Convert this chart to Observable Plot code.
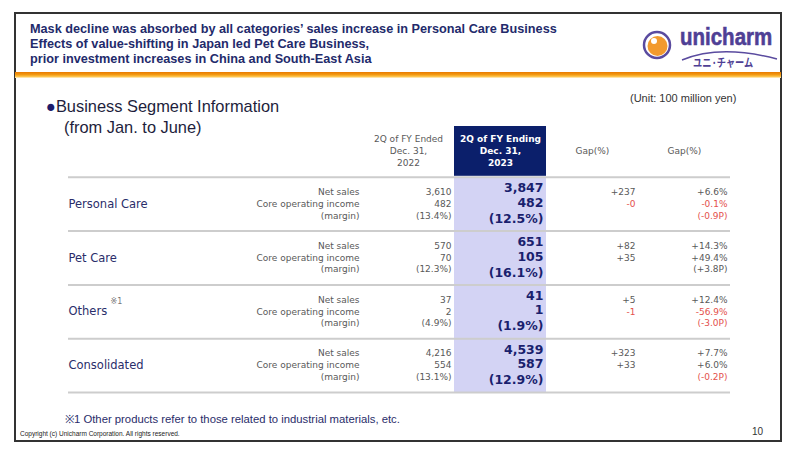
<!DOCTYPE html>
<html>
<head>
<meta charset="utf-8">
<script src="https://cdn.jsdelivr.net/npm/d3@7"></script>
<script src="https://cdn.jsdelivr.net/npm/@observablehq/plot@0.6"></script>
<style>
html, body { margin: 0; padding: 0; background: #fff; }
#page { position: relative; width: 800px; height: 457px; overflow: hidden; background: #fff; font-family: "Liberation Sans", Arial, sans-serif; }
.abs { position: absolute; white-space: nowrap; }
#chart { position: absolute; left: 0; top: 0; z-index: 1; }
#frame { position: absolute; left: 14px; top: 12px; width: 768px; height: 430px; border: 2px solid #333; box-sizing: border-box; z-index: 2; }
.title { left: 30px; font-weight: bold; font-size: 12.7px; color: #232a6b; line-height: 15px; z-index: 3; }
#orange { position: absolute; left: 15px; top: 72px; width: 766px; height: 6px; z-index: 3;
  background: linear-gradient(to bottom, #e87a00 0%, #f39a12 45%, #fcc24a 75%, #fff3d6 100%); }
</style>
</head>
<body>
<div id="page">
  <div id="chart"></div>
  <div id="frame"></div>
  <div class="abs title" style="top:22px">Mask decline was absorbed by all categories’ sales increase in Personal Care Business</div>
  <div class="abs title" style="top:37px">Effects of value-shifting in Japan led Pet Care Business,</div>
  <div class="abs title" style="top:52px">prior investment increases in China and South-East Asia</div>
  <div id="orange"></div>
  <svg class="abs" style="left:636px;top:20px;z-index:3;overflow:visible" width="145" height="52" viewBox="636 20 145 52">
    <circle cx="657" cy="45" r="13" fill="#fff" stroke="#5a4b9f" stroke-width="2.5"/>
    <circle cx="657.5" cy="46" r="10" fill="#f29a2e"/>
    <path d="M651 38 A9 9 0 0 0 660 55 A7 7 0 0 1 651 38 Z" fill="#fbd089"/>
    <circle cx="654" cy="41" r="3" fill="#fff"/>
    <text transform="translate(680,45) scale(1,1.18)" x="0" y="0" font-family="Liberation Sans" font-weight="bold" font-size="20.5" fill="#4f3f95" stroke="#4f3f95" stroke-width="0.5">unicharm</text>
    <path d="M682 60 Q 720 44 777 59" fill="none" stroke="#5a4b9f" stroke-width="1.4"/>
    <text transform="translate(693,66.5) scale(1,1.25)" x="0" y="0" font-family="Noto Sans CJK JP" font-weight="bold" font-size="9.2" fill="#4f3f95">ユニ·チャーム</text>
  </svg>
  <div class="abs" style="left:46px;top:97px;font-size:16.4px;color:#1e1e3c;z-index:3"><span style="color:#1c1c6b">●</span>Business Segment Information</div>
  <div class="abs" style="left:64px;top:118px;font-size:16.4px;color:#1e1e3c;z-index:3">(from Jan. to June)</div>
  <div class="abs" style="left:630px;top:92px;font-size:11px;color:#333;z-index:3">(Unit: 100 million yen)</div>
  <div class="abs" style="left:65px;top:411px;font-size:11.3px;color:#2a2d6a;z-index:3">※1 Other products refer to those related to industrial materials, etc.</div>
  <div class="abs" style="left:20px;top:430px;font-size:6.5px;color:#222;z-index:3">Copyright (c) Unicharm Corporation. All rights reserved.</div>
  <div class="abs" style="left:752px;top:426px;font-size:10px;color:#333;z-index:3">10</div>
</div>
<script>
// ---- data ----
const categories = ["Personal Care", "Pet Care", "Others", "Consolidated"];
const notes = ["", "", "※1", ""];
const rowLabels = ["Net sales", "Core operating income", "(margin)"];
const columns = ["label", "fy2022", "fy2023", "gap", "gapPct"];
const columnHeaders = ["", "2Q of FY Ended\nDec. 31,\n2022", "2Q of FY Ending\nDec. 31,\n2023", "Gap(%)", "Gap(%)"];
const netSales2022 = [3610, 570, 37, 4216];
const coreIncome2022 = [482, 70, 2, 554];
const margin2022 = [13.4, 12.3, 4.9, 13.1];
const netSales2023 = [3847, 651, 41, 4539];
const coreIncome2023 = [482, 105, 1, 587];
const margin2023 = [12.5, 16.1, 1.9, 12.9];
const netSalesGap = [237, 82, 5, 323];
const coreIncomeGap = [-0, 35, -1, 33];
const netSalesGapPct = [6.6, 14.3, 12.4, 7.7];
const coreIncomeGapPct = [-0.1, 49.4, -56.9, 6.0];
const marginGapPt = [-0.9, 3.8, -3.0, -0.2];

// ---- formatting ----
const isNeg = v => v < 0 || Object.is(v, -0);
const sign = v => isNeg(v) ? "-" : "+";
const fmtInt = d3.format(",");
const fmtGap = v => sign(v) + fmtInt(Math.abs(v));
const fmtPct = v => sign(v) + Math.abs(v).toFixed(1) + "%";
const fmtPt = v => "(" + sign(v) + Math.abs(v).toFixed(1) + "P)";
const fmtMargin = v => "(" + v.toFixed(1) + "%)";

const GRAY = "#595959", RED = "#e4514c", NAVY = "#1a1f6e", CAT = "#2a2d6a";
const LAVENDER = "#d3d3f4", HEADNAVY = "#0b1f6b";

const cells = [];
categories.forEach((cat, i) => {
  const yc = i + 0.5;
  const rows = [
    [[rowLabels[0], false], [fmtInt(netSales2022[i]), false], [fmtInt(netSales2023[i]), false],
     [fmtGap(netSalesGap[i]), isNeg(netSalesGap[i])], [fmtPct(netSalesGapPct[i]), isNeg(netSalesGapPct[i])]],
    [[rowLabels[1], false], [fmtInt(coreIncome2022[i]), false], [fmtInt(coreIncome2023[i]), false],
     [fmtGap(coreIncomeGap[i]), isNeg(coreIncomeGap[i])], [fmtPct(coreIncomeGapPct[i]), isNeg(coreIncomeGapPct[i])]],
    [[rowLabels[2], false], [fmtMargin(margin2022[i]), false], [fmtMargin(margin2023[i]), false],
     ["", false], [fmtPt(marginGapPt[i]), isNeg(marginGapPt[i])]]
  ];
  rows.forEach((r, line) => {
    r.forEach(([text, neg], c) => {
      if (text) cells.push({cat, line, col: columns[c], yc, text, color: neg ? RED : GRAY});
    });
  });
});

const headers = columns.map((c, i) => ({col: c, text: columnHeaders[i]})).filter(d => d.text);
const noteData = categories.map((c, i) => ({yc: i + 0.5, note: notes[i]})).filter(d => d.note);

const lineDy = [-12, 0, 11.5];
const boldDy = [-16, -1.5, 14.5];

const textMarks = [];
[0, 1, 2].forEach(j => {
  textMarks.push(Plot.text(cells.filter(d => d.line === j && d.col !== "fy2023"), {
    x: "col", y: "yc", text: "text", fill: "color", textAnchor: "end", dx: 43, dy: lineDy[j],
    fontSize: 9, fontFamily: "DejaVu Sans"
  }));
  textMarks.push(Plot.text(cells.filter(d => d.line === j && d.col === "fy2023"), {
    x: "col", y: "yc", text: "text", fill: NAVY, textAnchor: "end", dx: 43, dy: boldDy[j],
    fontSize: 12.5, fontWeight: "bold", fontFamily: "DejaVu Sans"
  }));
});

const chart = Plot.plot({
  width: 800, height: 457,
  marginLeft: 68, marginRight: 70, marginTop: 0, marginBottom: 0,
  x: {type: "band", domain: columns, range: [270, 730], padding: 0, axis: null},
  y: {type: "linear", domain: [-1, categories.length], range: [123, 392], axis: null},
  color: {type: "identity"},
  style: {background: "transparent", fontFamily: "DejaVu Sans", fontSize: "9px", overflow: "visible"},
  marks: [
    Plot.barY([{col: "fy2023"}], {x: "col", y1: 0, y2: categories.length, fill: LAVENDER}),
    Plot.barY([{col: "fy2023"}], {x: "col", y1: -1, y2: 0, fill: HEADNAVY, insetTop: 3, insetBottom: 1}),
    Plot.ruleY(d3.range(categories.length + 1), {stroke: "#cdcdcd", strokeWidth: 2}),
    Plot.text(headers.filter(d => d.col !== "fy2023"), {
      x: "col", y: () => -0.5, text: "text", fill: GRAY, lineHeight: 1.3, fontSize: 9, fontFamily: "DejaVu Sans"
    }),
    Plot.text(headers.filter(d => d.col === "fy2023"), {
      x: "col", y: () => -0.5, text: "text", fill: "#ffffff", lineHeight: 1.3, fontSize: 9, fontWeight: "bold", fontFamily: "DejaVu Sans"
    }),
    Plot.text(categories, {
      y: (d, i) => i + 0.5, text: d => d, frameAnchor: "left", textAnchor: "start",
      fontSize: 11.5, fill: CAT, fontFamily: "DejaVu Sans"
    }),
    Plot.text(noteData, {
      y: "yc", text: "note", frameAnchor: "left", textAnchor: "start", dx: 42, dy: -10,
      fontSize: 8, fill: "#777", fontFamily: "DejaVu Sans"
    }),
    ...textMarks
  ]
});
document.getElementById("chart").appendChild(chart);
</script>
</body>
</html>
